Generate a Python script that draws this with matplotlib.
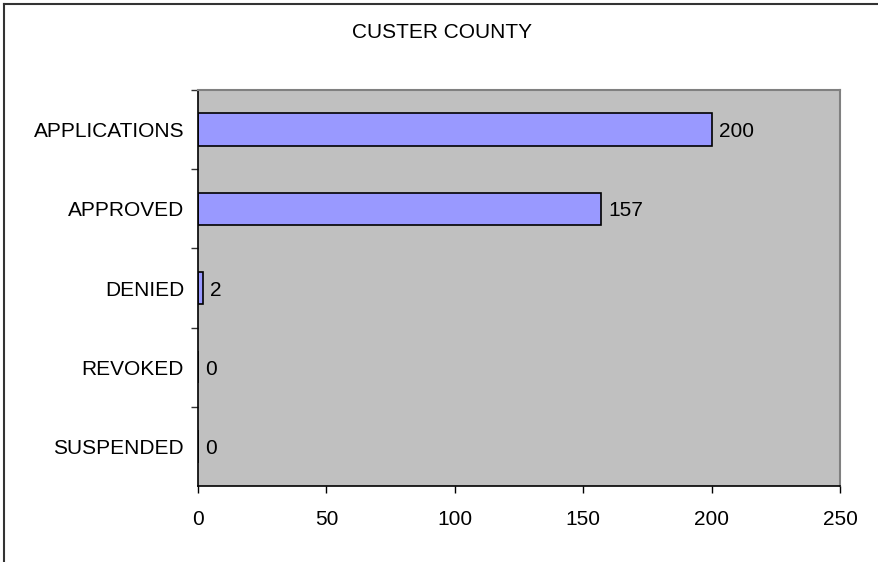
import matplotlib.pyplot as plt
from matplotlib.lines import Line2D

plt.rcParams['font.family'] = ['Liberation Sans', 'DejaVu Sans']

categories = ['APPLICATIONS', 'APPROVED', 'DENIED', 'REVOKED', 'SUSPENDED']
values = [200, 157, 2, 0, 0]
xticks = [0, 50, 100, 150, 200, 250]

fs = 15

fig = plt.figure(figsize=(8.79, 5.62), dpi=100)
ax = fig.add_axes([198 / 879, 1 - 486 / 562, (840 - 198) / 879, (486 - 90) / 562])

pos = list(range(len(categories)))
ax.barh(pos, values, height=0.41, color='#9999FF', edgecolor='black', linewidth=1.2)
ax.set_facecolor('#C0C0C0')
ax.set_xlim(0, 250)
ax.set_ylim(len(categories) - 0.5, -0.5)

ax.set_xticks(xticks)
ax.set_xticklabels([str(t) for t in xticks], fontsize=fs)
ax.set_yticks(pos)
ax.set_yticklabels(categories, fontsize=fs)
ax.tick_params(axis='y', which='major', length=0, pad=10)
ax.set_yticks([p + 0.5 for p in pos[:-1]] + [-0.5], minor=True)
ax.tick_params(axis='y', which='minor', length=5, width=1, color='#333333', direction='out')
ax.tick_params(axis='x', length=5, width=1, direction='out', pad=12)

for s in ['top', 'right']:
    ax.spines[s].set_color('#808080')
    ax.spines[s].set_linewidth(1.5)
for s in ['left', 'bottom']:
    ax.spines[s].set_color('black')
    ax.spines[s].set_linewidth(1.2)

for p, v in zip(pos, values):
    ax.annotate(str(v), (v, p), xytext=(5, 0), textcoords='offset points',
                va='center_baseline', ha='left', fontsize=fs)

fig.text(442 / 879, 1 - 33 / 562, 'CUSTER COUNTY', ha='center', va='center', fontsize=fs)

# outer chart border (only left and top visible)
fig.add_artist(Line2D([4 / 879, 4 / 879], [0, 1 - 4 / 562], transform=fig.transFigure,
                      color='#333333', linewidth=1.5))
fig.add_artist(Line2D([4 / 879, 1], [1 - 4 / 562, 1 - 4 / 562], transform=fig.transFigure,
                      color='#333333', linewidth=1.5))

fig.savefig('out.png', dpi=100)
